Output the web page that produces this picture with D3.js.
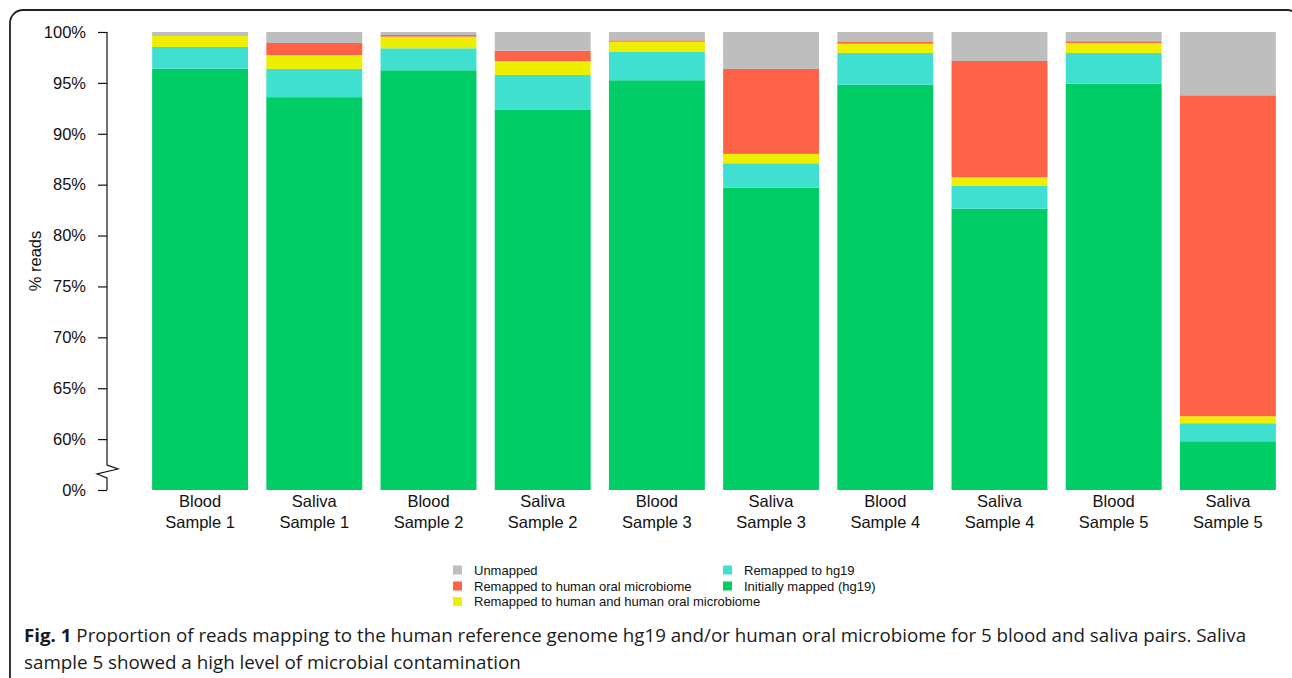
<!DOCTYPE html>
<html>
<head>
<meta charset="utf-8">
<script src="https://cdn.jsdelivr.net/npm/d3@7"></script>
<style>
  html, body { margin: 0; padding: 0; background: #fff; }
  svg { display: block; }
</style>
</head>
<body>
<svg id="chart" width="1292" height="678"></svg>
<script>
// ---- Data ----
const sampleTypes = ["Blood", "Saliva", "Blood", "Saliva", "Blood", "Saliva", "Blood", "Saliva", "Blood", "Saliva"];
const sampleLabels = ["Sample 1", "Sample 1", "Sample 2", "Sample 2", "Sample 3", "Sample 3", "Sample 4", "Sample 4", "Sample 5", "Sample 5"];
const initiallyMapped = [96.40, 93.60, 96.24, 92.34, 95.26, 84.71, 94.82, 82.64, 94.92, 59.79];
const remappedHg19    = [2.13, 2.77, 2.16, 3.44, 2.78, 2.39, 3.12, 2.26, 3.02, 1.77];
const remappedBoth    = [1.08, 1.37, 1.14, 1.37, 1.01, 0.92, 0.91, 0.83, 0.98, 0.69];
const remappedOral    = [0.00, 1.18, 0.17, 1.01, 0.13, 8.35, 0.17, 11.42, 0.17, 31.53];
const unmapped        = [0.39, 1.08, 0.29, 1.84, 0.82, 3.63, 0.98, 2.85, 0.91, 6.22];
const seriesNames = ["Initially mapped (hg19)", "Remapped to hg19", "Remapped to human and human oral microbiome", "Remapped to human oral microbiome", "Unmapped"];
const yTickValues = [0, 60, 65, 70, 75, 80, 85, 90, 95, 100];
const yTickLabels = ["0%", "60%", "65%", "70%", "75%", "80%", "85%", "90%", "95%", "100%"];
const legendOrder = ["Unmapped", "Remapped to human oral microbiome", "Remapped to human and human oral microbiome", "Remapped to hg19", "Initially mapped (hg19)"];
const captionBold = "Fig. 1";
const captionLine1 = " Proportion of reads mapping to the human reference genome hg19 and/or human oral microbiome for 5 blood and saliva pairs. Saliva";
const captionLine2 = "sample 5 showed a high level of microbial contamination";

// ---- Styles ----
const colors = {
  "Initially mapped (hg19)": "#00CD66",
  "Remapped to hg19": "#40E0D0",
  "Remapped to human and human oral microbiome": "#EEEE00",
  "Remapped to human oral microbiome": "#FF6347",
  "Unmapped": "#BEBEBE"
};
const axisFont = "'Liberation Sans', Arial, sans-serif";

const svg = d3.select("#chart");

// Frame
svg.append("rect").attr("x", 10).attr("y", 10).attr("width", 1290).attr("height", 720)
  .attr("rx", 13).attr("fill", "none").attr("stroke", "#222").attr("stroke-width", 1.8);

// Table for stacking
const table = sampleTypes.map((t, i) => ({
  key: i,
  "Initially mapped (hg19)": initiallyMapped[i],
  "Remapped to hg19": remappedHg19[i],
  "Remapped to human and human oral microbiome": remappedBoth[i],
  "Remapped to human oral microbiome": remappedOral[i],
  "Unmapped": unmapped[i]
}));
const stacked = d3.stack().keys(seriesNames)(table);

// Scales (broken axis: 0% drawn at the 55% position)
const breakAt = 55;
const yLin = d3.scaleLinear().domain([breakAt, 100]).range([490, 32]);
const yPos = v => yLin(v < breakAt ? breakAt : v);
const x = d3.scaleBand().domain(d3.range(sampleTypes.length)).range([143, 1285])
  .paddingInner(0.16).paddingOuter(0.08);

// Bars
const layers = svg.append("g").selectAll("g").data(stacked).join("g")
  .attr("fill", d => colors[d.key]);
layers.selectAll("rect").data(d => d).join("rect")
  .attr("x", (d, i) => x(i))
  .attr("width", x.bandwidth())
  .attr("y", d => yPos(d[1]))
  .attr("height", d => Math.max(0, yPos(d[0]) - yPos(d[1])));

// Y axis
const axisPos = yTickValues.map(v => v < breakAt ? breakAt : v);
const yAxis = d3.axisLeft(yLin).tickValues(axisPos)
  .tickFormat((d, i) => yTickLabels[i]).tickSize(9).tickPadding(12);
const gy = svg.append("g").attr("transform", "translate(107,0)").call(yAxis);
gy.select(".domain").remove();
gy.selectAll(".tick line").attr("stroke", "#111").attr("stroke-width", 1.2);
gy.selectAll(".tick text").attr("font-family", axisFont).attr("font-size", 16.5).attr("fill", "#111");

// Axis line with break
const yTop = yLin(100), yBot = yLin(breakAt);
const brk = d3.path();
brk.moveTo(0, yTop);
brk.lineTo(0, yBot - 25);
brk.lineTo(11, yBot - 21);
brk.lineTo(-10, yBot - 16);
brk.lineTo(0, yBot - 12);
brk.lineTo(0, yBot);
gy.append("path").attr("d", brk.toString()).attr("fill", "none").attr("stroke", "#111").attr("stroke-width", 1.2);

// Y title
svg.append("text").attr("transform", `translate(41,${(yTop + yBot) / 2}) rotate(-90)`)
  .attr("text-anchor", "middle").attr("font-family", axisFont).attr("font-size", 16.5).attr("fill", "#111")
  .text("% reads");

// X labels
const xl = svg.append("g").selectAll("text").data(sampleTypes).join("text")
  .attr("x", (d, i) => x(i) + x.bandwidth() / 2)
  .attr("y", 507)
  .attr("text-anchor", "middle").attr("font-family", axisFont).attr("font-size", 16.5).attr("fill", "#111");
xl.append("tspan").attr("x", (d, i) => x(i) + x.bandwidth() / 2).text(d => d);
xl.append("tspan").attr("x", (d, i) => x(i) + x.bandwidth() / 2).attr("dy", 21).text((d, i) => sampleLabels[i]);

// Legend
const legendPos = [
  [453, 570], [453, 586], [453, 601.5], [723, 570], [723, 586]
];
const lg = svg.append("g").selectAll("g").data(legendOrder).join("g")
  .attr("transform", (d, i) => `translate(${legendPos[i][0]},${legendPos[i][1]})`);
lg.append("rect").attr("x", 0).attr("y", -4.5).attr("width", 9).attr("height", 9).attr("fill", d => colors[d]);
lg.append("text").attr("x", 21).attr("y", 4.5).attr("font-family", axisFont).attr("font-size", 13).attr("fill", "#111").text(d => d);

// Caption
const capFont = "'Open Sans', 'Noto Sans', sans-serif";
function captionLine(yBase, parts, targetWidth) {
  const g = svg.append("g");
  const t = g.append("text").attr("x", 0).attr("y", 0).attr("font-family", capFont).attr("font-size", 18.5).attr("fill", "#1a1a1a");
  parts.forEach(p => t.append("tspan").attr("font-weight", p.bold ? "bold" : "normal").text(p.text));
  const w = t.node().getComputedTextLength();
  const s = targetWidth / w;
  g.attr("transform", `translate(24,${yBase}) scale(${s},1)`);
}
captionLine(642, [{ text: captionBold, bold: true }, { text: captionLine1, bold: false }], 1223);
captionLine(669, [{ text: captionLine2, bold: false }], 497);
</script>
</body>
</html>
